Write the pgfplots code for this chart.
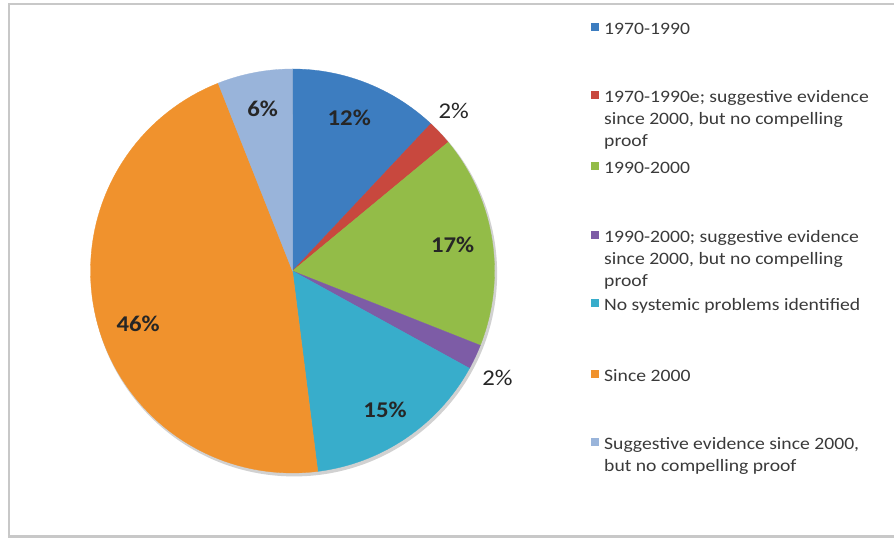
\documentclass[border=0pt]{standalone}
\usepackage{pgfplots}
\pgfplotsset{compat=1.18}
\usepackage{fontspec}
\setmainfont{Carlito}
\definecolor{cA}{HTML}{3D7DC0}
\definecolor{cB}{HTML}{C8483E}
\definecolor{cC}{HTML}{93BC48}
\definecolor{cD}{HTML}{7D5CA6}
\definecolor{cE}{HTML}{38ADCB}
\definecolor{cF}{HTML}{F0922D}
\definecolor{cG}{HTML}{99B4DA}
\definecolor{frame}{HTML}{C8C8C8}
\definecolor{txt}{HTML}{3A3A3A}
% slice: colour, cumulative start (percent), value (percent)
\newcommand\slice[3]{%
  \pgfmathsetmacro\angA{90-3.6*#2}%
  \pgfmathsetmacro\angB{90-3.6*(#2+#3)}%
  \addplot[fill=#1, draw=#1, line width=0.3pt, domain=\angA:\angB, samples=80, variable=\t]
    ({cos(\t)},{sin(\t)}) -- (axis cs:0,0) -- cycle;
}
\newcommand\pct[3]{\node[font=\fontsize{22.5}{26}\selectfont\bfseries, text=black!85] at (axis cs:#1,#2) {\scalebox{1.1}[1]{#3}};}
\newcommand\pcto[3]{\node[font=\fontsize{22.5}{26}\selectfont, text=black!85] at (axis cs:#1,#2) {\scalebox{1.1}[1]{#3}};}
\newcommand\legsq[2]{\fill[#1] (591pt,#2pt+4pt) rectangle (599pt,#2pt+11.5pt);}
\newcommand\legln[2]{\node[anchor=base west, inner sep=0pt, text=txt, font=\fontsize{17.4}{22}\selectfont] at (604pt,#1pt) {\scalebox{1.13}[1]{#2}};}
\begin{document}
\begin{tikzpicture}
\path[use as bounding box] (0pt,0pt) rectangle (894pt,538pt);
\fill[white] (0pt,0pt) rectangle (894pt,538pt);
\draw[frame, line width=2.2pt] (900pt,1.5pt) -- (9pt,1.5pt) -- (9pt,534pt) -- (900pt,534pt);
\begin{axis}[at={(292.5pt,267pt)}, anchor=origin, x=202pt, y=202pt,
  xmin=-1, xmax=1, ymin=-1, ymax=1, hide axis, clip=false]
\fill[black!18] (axis cs:0.008,-0.012) circle[radius=203pt];
\slice{cA}{0}{12}
\slice{cB}{12}{2}
\slice{cC}{14}{17}
\slice{cD}{31}{2}
\slice{cE}{33}{15}
\slice{cF}{48}{46}
\slice{cG}{94}{6}
\pct{0.281}{0.756}{12\%}
\pcto{0.798}{0.793}{2\%}
\pct{0.793}{0.128}{17\%}
\pcto{1.015}{-0.527}{2\%}
\pct{0.458}{-0.685}{15\%}
\pct{-0.764}{-0.261}{46\%}
\pct{-0.148}{0.805}{6\%}
\end{axis}
% legend (baselines)
\legsq{cA}{503}\legln{503}{1970-1990}
\legsq{cB}{435}\legln{435}{1970-1990e; suggestive evidence}
\legln{413}{since 2000, but no compelling}
\legln{391}{proof}
\legsq{cC}{364}\legln{364}{1990-2000}
\legsq{cD}{295}\legln{295}{1990-2000; suggestive evidence}
\legln{273}{since 2000, but no compelling}
\legln{251}{proof}
\legsq{cE}{227}\legln{227}{No systemic problems identified}
\legsq{cF}{156}\legln{156}{Since 2000}
\legsq{cG}{88}\legln{88}{Suggestive evidence since 2000,}
\legln{66}{but no compelling proof}
\end{tikzpicture}
\end{document}
